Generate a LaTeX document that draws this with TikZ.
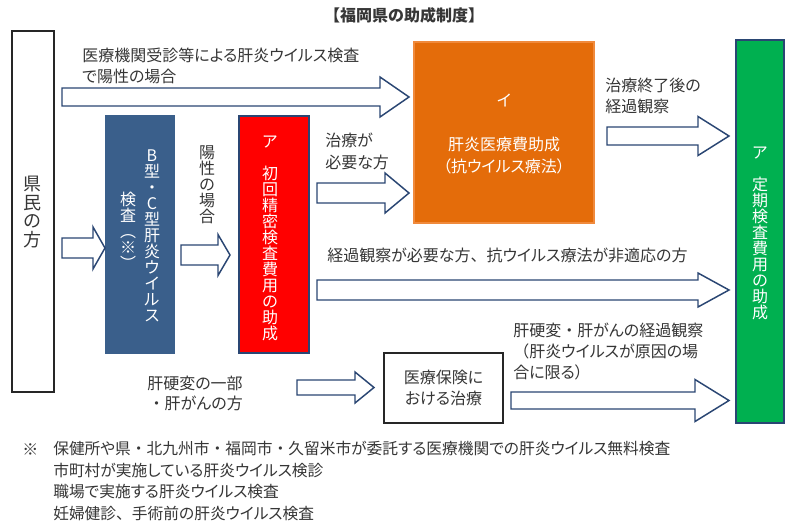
\documentclass[tikz,border=0pt]{standalone}
\usepackage{fontspec}
\setmainfont{Noto Sans CJK JP}[RawFeature=+palt]
\newfontfamily\cjkfull{Noto Sans CJK JP}
\newcommand\fw[1]{{\cjkfull #1}}
\definecolor{txtgray}{HTML}{363636}
\definecolor{kblue}{HTML}{3A5F8B}
\definecolor{kred}{HTML}{FF0000}
\definecolor{korange}{HTML}{E46C0A}
\definecolor{korangeline}{HTML}{F08A3C}
\definecolor{kgreen}{HTML}{00B050}
\definecolor{navyline}{HTML}{2A4673}
\newcommand\px{0.75pt}
\newcommand\fs{\fontsize{12}{16}\selectfont}
\newcommand\blockarrow[6]{% x1, xtip, yc, shaft half, head half, head start
  \draw[barrow] ({#1},{#3-#4}) -- ({#6},{#3-#4}) -- ({#6},{#3-#5}) -- ({#2},{#3})
    -- ({#6},{#3+#5}) -- ({#6},{#3+#4}) -- ({#1},{#3+#4}) -- cycle;}
\tikzset{
  barrow/.style={draw=navyline, fill=white, line width=1.1pt, line join=miter},
  lbl/.style={inner sep=0pt, text=txtgray, align=left},
  wbox/.style={draw=black!85, fill=white, line width=1pt, inner sep=0pt},
  cbox/.style={line width=0.9pt, inner sep=0pt, text=white, align=center},
  vt/.style={inner sep=0pt, align=center, font=\fontsize{12}{12}\selectfont},
}
\begin{document}
\begin{tikzpicture}[x=0.75pt,y=-0.75pt]
\useasboundingbox (0,0) rectangle (800,526);
\fill[white] (0,0) rectangle (800,526);

% title
\node[lbl, font=\fontsize{12}{14}\selectfont\bfseries] (title) at (404,15) {\fw{【福岡県の助成制度】}};

% boxes
\node[wbox, minimum width=42*\px, minimum height=361*\px] (kenmin) at (33,211.5) {};
\node[vt, text=txtgray, font=\fontsize{13.5}{14}\selectfont] (kenmintxt) at (32,212) {県\\民\\の\\方};

\node[cbox, draw=kblue, fill=kblue, minimum width=68*\px, minimum height=237*\px] (kensa) at (140,234.5) {};
\node[vt, text=white] (kensa1) at (152,236) {B\\型\\\fw{・}\\C\\型\\肝\\炎\\ウ\\イ\\ル\\ス};
\node[vt, text=white] (kensa2) at (128,231) {検\\査\\︵\\※\\︶};

\node[cbox, draw=navyline, fill=kred, minimum width=70*\px, minimum height=237*\px] (seimitsu) at (274,234.5) {};
\node[vt, text=white] (seimitsutxt) at (270,238) {ア\\　\\初\\回\\精\\密\\検\\査\\費\\用\\の\\助\\成};

\node[cbox, draw=korangeline, fill=korange, minimum width=180*\px, minimum height=181*\px] (iryohi) at (504,132.5) {};
\node[lbl, text=white, font=\fs] (iryohi1) at (504,100) {イ};
\node[lbl, text=white, align=center, font=\fontsize{12}{16.5}\selectfont] (iryohi2) at (504,156) {肝炎医療費助成\\（抗ウイルス療法）};

\node[cbox, draw=navyline, fill=kgreen, minimum width=48*\px, minimum height=383*\px] (teiki) at (760,231.5) {};
\node[vt, text=white] (teikitxt) at (760,233) {ア\\　\\定\\期\\検\\査\\費\\用\\の\\助\\成};

\node[wbox, minimum width=119*\px, minimum height=70*\px] (hoken) at (443.5,388) {};
\node[lbl, align=center, font=\fontsize{12}{15.75}\selectfont] (hokentxt) at (443.5,388) {医療保険に\\おける治療};

% vertical label
\node[vt, text=txtgray] (yousei) at (207,185) {陽\\性\\の\\場\\合};

% block arrows
\blockarrow{62}{409}{97}{9}{20}{380}
\blockarrow{62}{105}{248}{10}{21}{93}
\blockarrow{181}{230}{255}{10}{20.5}{218}
\blockarrow{317}{409}{193}{10}{20}{385}
\blockarrow{607}{729}{136}{9}{19.5}{698}
\blockarrow{317}{729}{290}{10}{17}{698}
\blockarrow{297}{374}{387.5}{7.5}{15.5}{355}
\blockarrow{511}{729}{400.5}{8.5}{21}{695}

% labels
\node[lbl, anchor=west, font=\fontsize{12}{15.75}\selectfont] (l1) at (82,65.5) {医療機関受診等による肝炎ウイルス検査\\で陽性の場合};
\node[lbl, anchor=west, font=\fontsize{12}{16.5}\selectfont] (l2) at (325,151) {治療が\\必要な方};
\node[lbl, anchor=west, font=\fontsize{12}{15.75}\selectfont] (l3) at (605,95.5) {治療終了後の\\経過観察};
\node[lbl, anchor=west, font=\fs] (l4) at (327,255) {経過観察が必要な方\fw{、}抗ウイルス療法が非適応の方};
\node[lbl, anchor=west, font=\fontsize{12}{16.1}\selectfont] (l5) at (513,351.5) {肝硬変\fw{・}肝がんの経過観察\\\fw{（}肝炎ウイルスが原因の場\\合に限る）};
\node[lbl, anchor=east, align=right, font=\fontsize{12}{15}\selectfont] (l6) at (243,393) {肝硬変の一部\\\fw{・}肝がんの方};

% footnote
\node[lbl, anchor=west, font=\fs] (kome) at (22,450) {\fw{※}};
\node[lbl, anchor=north west, font=\fontsize{11.8}{16.25}\selectfont] (foot) at (53,441) {保健所や県\fw{・}北九州市\fw{・}福岡市\fw{・}久留米市が委託する医療機関での肝炎ウイルス無料検査\\市町村が実施している肝炎ウイルス検診\\職場で実施する肝炎ウイルス検査\\妊婦健診\fw{、}手術前の肝炎ウイルス検査};
\end{tikzpicture}
\end{document}
